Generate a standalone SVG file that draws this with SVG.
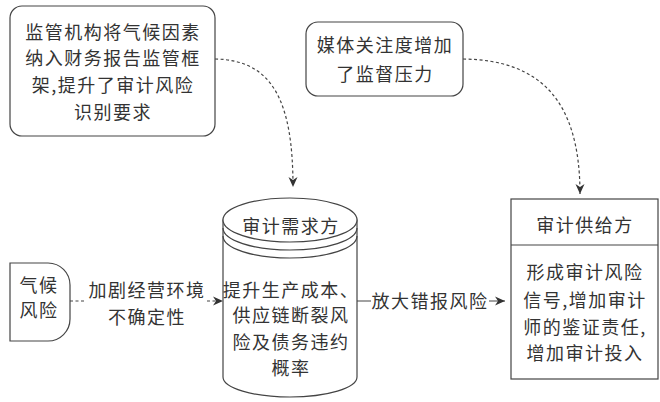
<svg xmlns="http://www.w3.org/2000/svg" width="660" height="402" viewBox="0 0 660 402">
<defs>
<style>
.t{font-family:"Noto Sans CJK SC","Noto Sans",sans-serif;font-size:18px;fill:#333;text-anchor:middle;letter-spacing:1.5px}
.s{fill:#fff;stroke:#444;stroke-width:1.2}
.c{fill:none;stroke:#444;stroke-width:1.2}
.d{stroke-dasharray:3 2.5}
</style>
<marker id="ah" markerUnits="userSpaceOnUse" markerWidth="10" markerHeight="10" refX="10" refY="5" orient="auto" viewBox="0 0 10 10">
<path d="M0,0.5 L10,5 L0,9.5 L3,5 Z" fill="#333"/>
</marker>
</defs>
<rect width="660" height="402" fill="#fff"/>
<g id="connectors">
<path class="c d" d="M215,59 C272,60 293,100 293,187" marker-end="url(#ah)"/>
<path class="c d" d="M463,59 C540,60 580,100 580,194" marker-end="url(#ah)"/>
<path class="c d" d="M70,301 H86 M207,301 H223" marker-end="url(#ah)"/>
<text class="t" x="147" y="297">加剧经营环境</text>
<text class="t" x="147" y="324">不确定性</text>
<path class="c" d="M357,301 H371 M489,301 H505" marker-end="url(#ah)"/>
<text class="t" x="430" y="308">放大错报风险</text>
</g>
<g id="regulator">
<rect class="s" x="10" y="6" width="205" height="130" rx="12"/>
<text class="t" x="113" y="39">监管机构将气候因素</text>
<text class="t" x="113" y="65">纳入财务报告监管框</text>
<text class="t" x="113" y="92">架,提升了审计风险</text>
<text class="t" x="113" y="119">识别要求</text>
</g>
<g id="media">
<rect class="s" x="306" y="22" width="157" height="74" rx="12"/>
<text class="t" x="385" y="52">媒体关注度增加</text>
<text class="t" x="385" y="81">了监督压力</text>
</g>
<g id="climate">
<path class="s" d="M10,263 H48 A22,22 0 0 1 70,285 V319 A22,22 0 0 1 48,341 H10 Z"/>
<text class="t" x="39" y="292">气候</text>
<text class="t" x="39" y="317">风险</text>
</g>
<g id="demand">
<path class="s" d="M223,220 V377 A67,20 0 0 0 357,377 V220 Z"/>
<ellipse class="s" cx="290" cy="220" rx="67" ry="22"/>
<path class="c" d="M223,228 A67,22 0 0 0 357,228 M223,236 A67,22 0 0 0 357,236"/>
<text class="t" x="291" y="233">审计需求方</text>
<text class="t" x="291" y="297">提升生产成本、</text>
<text class="t" x="291" y="322">供应链断裂风</text>
<text class="t" x="291" y="349">险及债务违约</text>
<text class="t" x="291" y="375">概率</text>
</g>
<g id="supply">
<rect class="s" x="511" y="199" width="147" height="180"/>
<line class="c" x1="511" y1="245" x2="658" y2="245"/>
<text class="t" x="585" y="232">审计供给方</text>
<text class="t" x="585" y="279">形成审计风险</text>
<text class="t" x="585" y="307">信号,增加审计</text>
<text class="t" x="585" y="334">师的鉴证责任,</text>
<text class="t" x="585" y="360">增加审计投入</text>
</g>
</svg>
